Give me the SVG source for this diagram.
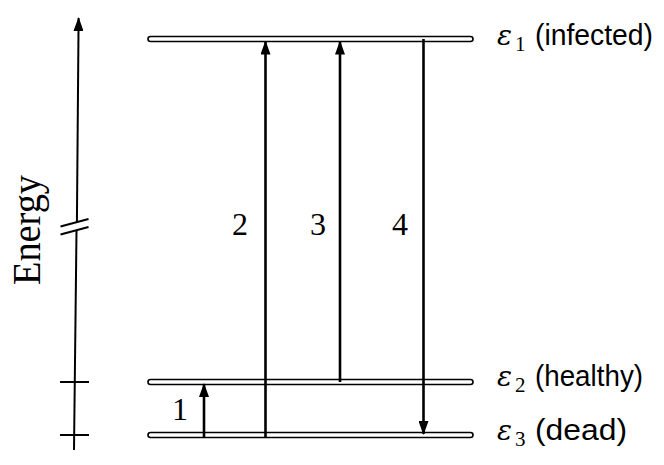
<svg xmlns="http://www.w3.org/2000/svg" width="664" height="465" viewBox="0 0 664 465">
<defs>
<style>
.lvl{fill:#fff;stroke:#000;stroke-width:1.6}
.ax{stroke:#000;stroke-width:2;fill:none}
.ar{stroke:#000;stroke-width:2.6;fill:none}
.num{font-family:"Liberation Serif",serif;font-size:32px;fill:#000;text-anchor:middle}
.lab{font-family:"Liberation Sans",sans-serif;font-size:29px;fill:#000}
.eps{font-family:"DejaVu Serif","Liberation Serif",serif;font-style:italic;font-size:28px;fill:#000}
.sub{font-family:"Liberation Serif",serif;font-size:21px;fill:#000}
</style>
<marker id="ah" viewBox="0 0 14 10" refX="13" refY="5" markerWidth="14" markerHeight="10" markerUnits="userSpaceOnUse" orient="auto">
<path d="M0,0 L14,5 L0,10 Z" fill="#000"/>
</marker>
</defs>
<g id="axis">
<line class="ax" x1="74" y1="450" x2="76.5" y2="231"/>
<line class="ax" x1="76.9" y1="223" x2="78.6" y2="18" marker-end="url(#ah)"/>
<line class="ax" x1="60.5" y1="226.5" x2="88.5" y2="219" stroke-width="2.4"/>
<line class="ax" x1="60.5" y1="234.5" x2="88.5" y2="227" stroke-width="2.4"/>
<line class="ax" x1="60" y1="382" x2="89" y2="382"/>
<line class="ax" x1="60" y1="435" x2="89" y2="435"/>
<text transform="translate(40,230) rotate(-90)" font-family="Liberation Serif, serif" font-size="40" fill="#000" text-anchor="middle" textLength="110" lengthAdjust="spacingAndGlyphs">Energy</text>
</g>
<g id="level1">
<rect class="lvl" x="148" y="36.5" width="325" height="5" rx="2.5"/>
<text class="eps" x="497" y="45">ε</text><text class="sub" x="515" y="51">1</text>
<text class="lab" x="535" y="45" textLength="118" lengthAdjust="spacingAndGlyphs">(infected)</text>
</g>
<g id="level2">
<rect class="lvl" x="148" y="379.5" width="325" height="5" rx="2.5"/>
<text class="eps" x="497" y="386">ε</text><text class="sub" x="515" y="392">2</text>
<text class="lab" x="535" y="386" textLength="108" lengthAdjust="spacingAndGlyphs">(healthy)</text>
</g>
<g id="level3">
<rect class="lvl" x="148" y="432.5" width="325" height="5" rx="2.5"/>
<text class="eps" x="497" y="440">ε</text><text class="sub" x="515" y="446">3</text>
<text class="lab" x="535" y="440" textLength="92" lengthAdjust="spacingAndGlyphs">(dead)</text>
</g>
<g id="connectors">
<line class="ar" x1="204" y1="437" x2="204" y2="384" marker-end="url(#ah)"/>
<line class="ar" x1="265.5" y1="437" x2="265.5" y2="41.5" marker-end="url(#ah)"/>
<line class="ar" x1="340" y1="382" x2="340" y2="41.5" marker-end="url(#ah)"/>
<line class="ar" x1="423.5" y1="39" x2="423.5" y2="434" marker-end="url(#ah)"/>
<text class="num" x="180" y="420">1</text>
<text class="num" x="240" y="235">2</text>
<text class="num" x="318" y="235">3</text>
<text class="num" x="400" y="235">4</text>
</g>
</svg>
